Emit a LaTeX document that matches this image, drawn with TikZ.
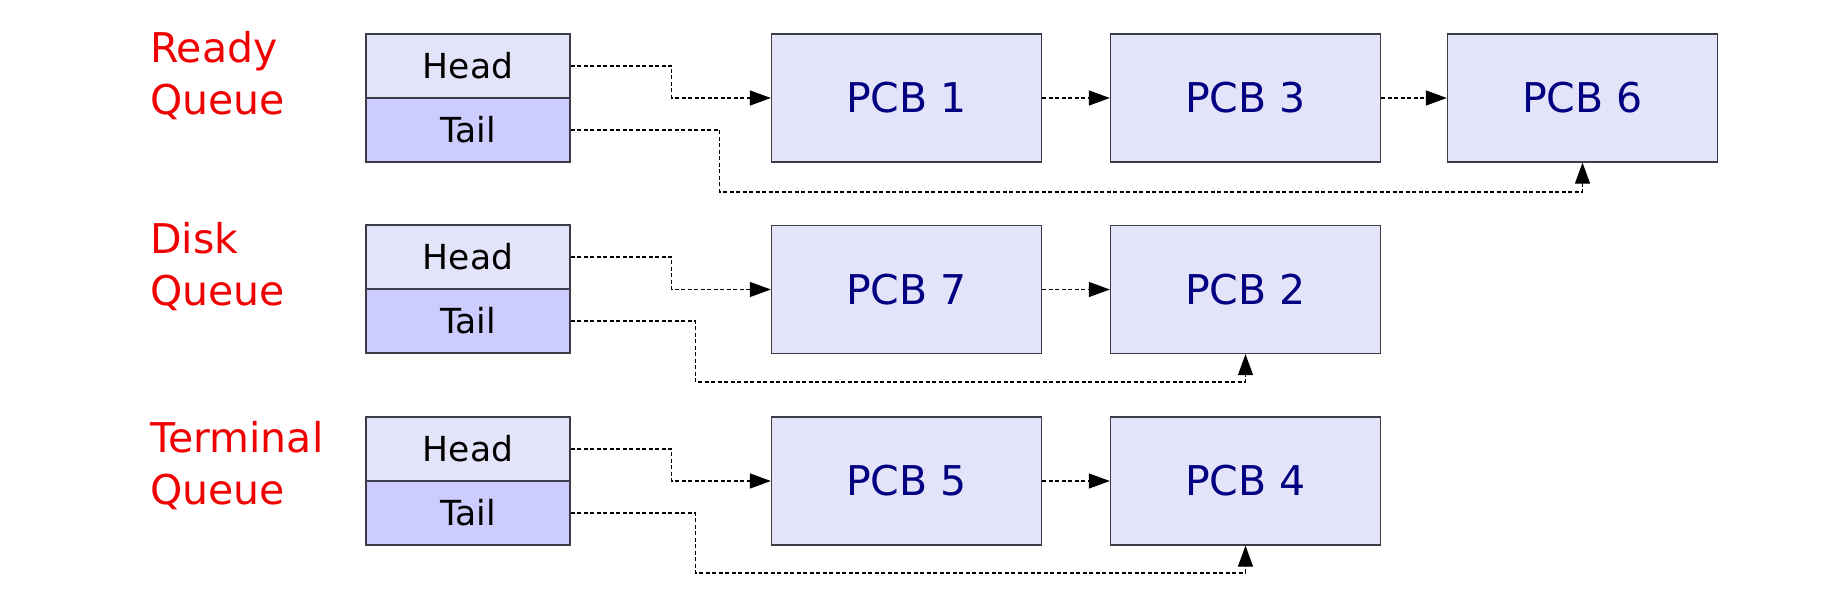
\documentclass[tikz,border=0pt]{standalone}
\usepackage{fontspec}
\setmainfont{DejaVu Sans}
\usetikzlibrary{arrows.meta}
\definecolor{headfill}{RGB}{227,227,250}
\definecolor{tailfill}{RGB}{204,204,255}
\definecolor{pcbfill}{RGB}{227,227,250}
\definecolor{pcbtext}{RGB}{0,0,128}
\definecolor{labelred}{RGB}{240,0,0}
\definecolor{edge}{RGB}{60,60,70}
\tikzset{
  cell/.style={draw=edge, line width=1.3pt, rectangle, inner sep=0pt,
    minimum width=204pt, minimum height=64pt,
    font=\fontsize{34.5}{40}\selectfont},
  headcell/.style={cell, fill=headfill},
  tailcell/.style={cell, fill=tailfill},
  pcb/.style={draw=edge, line width=1.3pt, rectangle, inner sep=0pt, fill=pcbfill,
    minimum width=270pt, minimum height=128pt, text=pcbtext,
    font=\fontsize{41}{48}\selectfont},
  qlabel/.style={anchor=base west, inner sep=0pt, text=labelred,
    font=\fontsize{41}{48}\selectfont},
  conn/.style={draw=black, line width=1.2pt, dash pattern=on 4pt off 2.5pt,
    -{Triangle[length=21pt,width=15pt]}}
}
\begin{document}
\begin{tikzpicture}[x=1pt,y=-1pt]
\useasboundingbox (0,0) rectangle (1848,591);
% labels
\node[qlabel] (rl1) at (150,63) {Ready};
\node[qlabel] (rl2) at (150,115) {Queue};
\node[qlabel] (dl1) at (150,253) {Disk};
\node[qlabel] (dl2) at (150,305) {Queue};
\node[qlabel] (tl1) at (150,452) {Terminal};
\node[qlabel] (tl2) at (150,504) {Queue};
% head/tail cells
\node[headcell] (rh) at (468,66) {Head};
\node[tailcell] (rt) at (468,130) {Tail};
\node[headcell] (dh) at (468,257) {Head};
\node[tailcell] (dt) at (468,321) {Tail};
\node[headcell] (th) at (468,449) {Head};
\node[tailcell] (tt) at (468,513) {Tail};
% PCBs
\node[pcb] (p1) at (906.5,98) {PCB 1};
\node[pcb] (p3) at (1245.5,98) {PCB 3};
\node[pcb] (p6) at (1582.5,98) {PCB 6};
\node[pcb] (p7) at (906.5,289.5) {PCB 7};
\node[pcb] (p2) at (1245.5,289.5) {PCB 2};
\node[pcb] (p5) at (906.5,481) {PCB 5};
\node[pcb] (p4) at (1245.5,481) {PCB 4};
% connectors
\draw[conn] (rh.east) -- ++(101,0) |- (p1.west);
\draw[conn] (rt.east) -- ++(149,0) -- ++(0,62) -| (p6.south);
\draw[conn] (p1.east) -- (p3.west);
\draw[conn] (p3.east) -- (p6.west);
\draw[conn] (dh.east) -- ++(101,0) |- (p7.west);
\draw[conn] (dt.east) -- ++(125,0) -- ++(0,61) -| (p2.south);
\draw[conn] (p7.east) -- (p2.west);
\draw[conn] (th.east) -- ++(101,0) |- (p5.west);
\draw[conn] (tt.east) -- ++(125,0) -- ++(0,60) -| (p4.south);
\draw[conn] (p5.east) -- (p4.west);
\end{tikzpicture}
\end{document}
